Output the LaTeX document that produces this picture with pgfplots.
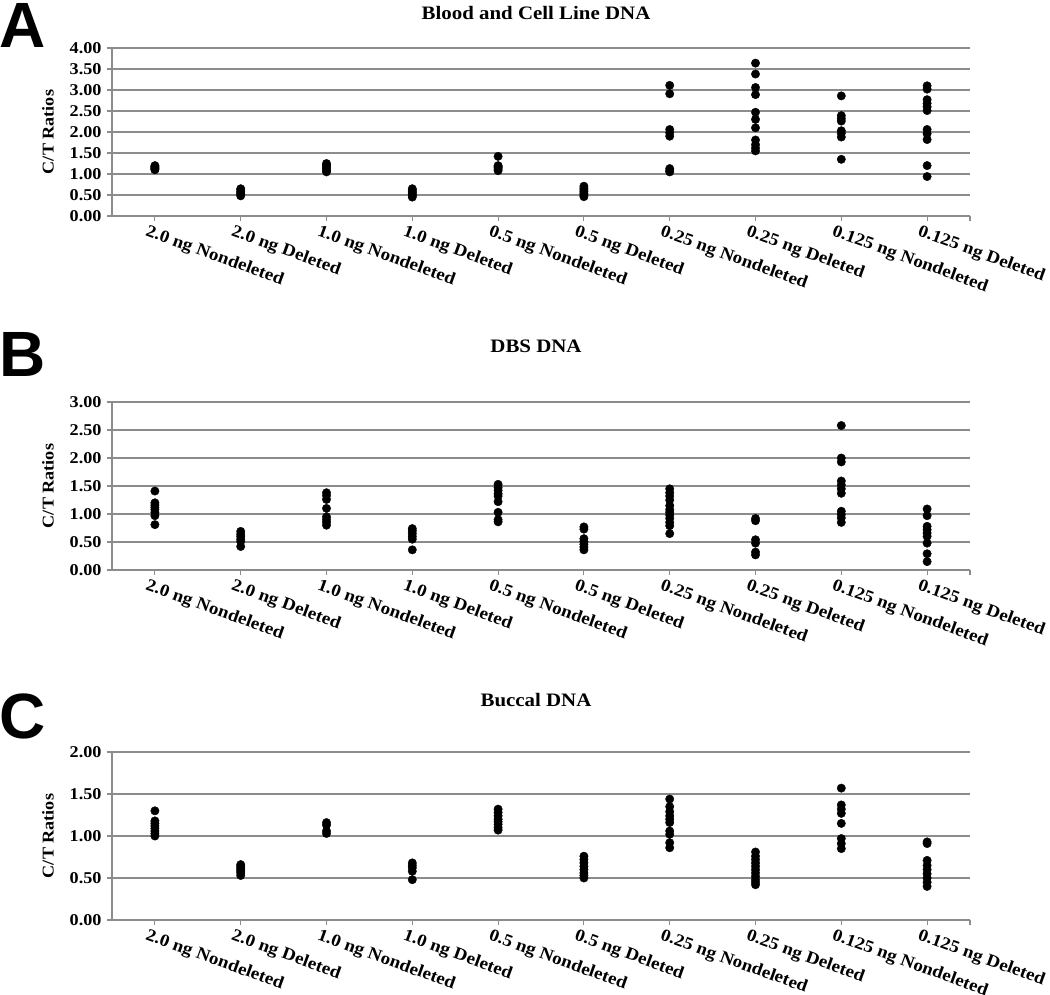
\documentclass[border=0pt]{standalone}
\usepackage{fontspec}
\setmainfont{Liberation Serif}[FakeStretch=1.1]
\newfontfamily\panelfont{Liberation Sans}
\usepackage{pgfplots}
\pgfplotsset{compat=1.18}
\definecolor{gridc}{RGB}{140,140,140}
\pgfplotsset{ctstyle/.style={
  scale only axis, width=858pt, height=168pt,
  xmin=-0.5, xmax=9.5, ymin=0,
  axis lines*=left,
  axis line style={gridc, line width=1.1pt},
  ymajorgrids, grid style={gridc, line width=1.1pt},
  xtick={0,...,9},
  xticklabels={2.0 ng Nondeleted, 2.0 ng Deleted, 1.0 ng Nondeleted, 1.0 ng Deleted, 0.5 ng Nondeleted, 0.5 ng Deleted, 0.25 ng Nondeleted, 0.25 ng Deleted, 0.125 ng Nondeleted, 0.125 ng Deleted},
  extra x ticks={9.5}, extra x tick labels={},
  tick align=outside, major tick length=5pt,
  tick style={gridc, line width=1.1pt},
  yticklabel style={font=\fontsize{16.5}{16.5}\selectfont\bfseries, xshift=-2pt},
  y tick label style={/pgf/number format/.cd, fixed, fixed zerofill, precision=2, assume math mode=true},
  xticklabel style={font=\fontsize{17.3}{17.3}\selectfont\bfseries, inner sep=0pt, xshift=-6pt, yshift=-3pt, rotate=-20, anchor=north west},
  ylabel={C/T Ratios},
  every axis y label/.style={at={(axis description cs:0,0.5)}, xshift=-64pt, rotate=90, anchor=center, font=\fontsize{16.5}{16.5}\selectfont\bfseries},
  clip=false,
}}
\pgfplotsset{dots/.style={only marks, mark=*, mark size=4.2pt, color=black, mark options={fill=black, draw=black}}}
\begin{document}
\begin{tikzpicture}
\useasboundingbox (0pt,0pt) rectangle (1050pt,-994pt);
% Panel A
\node[font=\panelfont\fontsize{64}{64}\selectfont\bfseries, anchor=north west, inner sep=0pt] at (-1pt,-3pt) {A};
\node[font=\fontsize{19}{19}\selectfont\bfseries, anchor=base] at (536pt,-19pt) {Blood and Cell Line DNA};
\begin{axis}[ctstyle, at={(112pt,-216pt)}, anchor=south west, ymax=4, ytick={0,0.5,...,4}]
\addplot[dots] coordinates {
(0,1.10)(0,1.12)(0,1.14)(0,1.16)(0,1.18)(0,1.20)
(1,0.48)(1,0.52)(1,0.55)(1,0.58)(1,0.62)(1,0.65)
(2,1.05)(2,1.08)(2,1.12)(2,1.15)(2,1.18)(2,1.22)(2,1.25)
(3,0.45)(3,0.48)(3,0.52)(3,0.55)(3,0.58)(3,0.62)(3,0.65)
(4,1.42)(4,1.08)(4,1.12)(4,1.15)(4,1.18)(4,1.20)
(5,0.46)(5,0.50)(5,0.54)(5,0.58)(5,0.62)(5,0.66)(5,0.71)
(6,3.11)(6,2.91)(6,2.06)(6,1.98)(6,1.90)(6,1.13)(6,1.08)(6,1.05)
(7,3.64)(7,3.38)(7,3.06)(7,2.89)(7,2.47)(7,2.30)(7,2.10)(7,1.81)(7,1.70)(7,1.62)(7,1.55)
(8,2.86)(8,2.39)(8,2.32)(8,2.26)(8,2.03)(8,1.97)(8,1.88)(8,1.35)
(9,3.10)(9,3.02)(9,2.77)(9,2.68)(9,2.60)(9,2.51)(9,2.06)(9,1.96)(9,1.82)(9,1.20)(9,0.94)
};
\end{axis}
% Panel B
\node[font=\panelfont\fontsize{64}{64}\selectfont\bfseries, anchor=north west, inner sep=0pt] at (-1pt,-332pt) {B};
\node[font=\fontsize{19}{19}\selectfont\bfseries, anchor=base] at (536pt,-352pt) {DBS DNA};
\begin{axis}[ctstyle, at={(112pt,-570pt)}, anchor=south west, ymax=3, ytick={0,0.5,...,3}]
\addplot[dots] coordinates {
(0,1.41)(0,1.20)(0,1.16)(0,1.12)(0,1.08)(0,1.03)(0,0.97)(0,0.81)
(1,0.69)(1,0.64)(1,0.60)(1,0.55)(1,0.51)(1,0.42)
(2,1.38)(2,1.33)(2,1.26)(2,1.10)(2,0.95)(2,0.90)(2,0.85)(2,0.80)
(3,0.74)(3,0.70)(3,0.65)(3,0.60)(3,0.55)(3,0.36)
(4,1.53)(4,1.47)(4,1.42)(4,1.36)(4,1.32)(4,1.22)(4,1.03)(4,0.90)(4,0.86)
(5,0.77)(5,0.73)(5,0.56)(5,0.51)(5,0.46)(5,0.41)(5,0.36)
(6,1.45)(6,1.38)(6,1.32)(6,1.25)(6,1.15)(6,1.08)(6,1.03)(6,0.98)(6,0.92)(6,0.85)(6,0.79)(6,0.65)
(7,0.92)(7,0.88)(7,0.54)(7,0.48)(7,0.32)(7,0.27)
(8,2.58)(8,2.00)(8,1.93)(8,1.59)(8,1.52)(8,1.45)(8,1.37)(8,1.05)(8,0.99)(8,0.93)(8,0.85)
(9,1.09)(9,0.97)(9,0.78)(9,0.72)(9,0.66)(9,0.60)(9,0.48)(9,0.29)(9,0.15)
};
\end{axis}
% Panel C
\node[font=\panelfont\fontsize{64}{64}\selectfont\bfseries, anchor=north west, inner sep=0pt] at (-1pt,-694pt) {C};
\node[font=\fontsize{19}{19}\selectfont\bfseries, anchor=base] at (536pt,-706pt) {Buccal DNA};
\begin{axis}[ctstyle, at={(112pt,-920pt)}, anchor=south west, ymax=2, ytick={0,0.5,...,2}]
\addplot[dots] coordinates {
(0,1.30)(0,1.18)(0,1.15)(0,1.12)(0,1.09)(0,1.06)(0,1.03)(0,1.00)
(1,0.53)(1,0.56)(1,0.58)(1,0.60)(1,0.62)(1,0.64)(1,0.66)
(2,1.16)(2,1.13)(2,1.06)(2,1.03)
(3,0.68)(3,0.65)(3,0.62)(3,0.58)(3,0.48)
(4,1.32)(4,1.28)(4,1.24)(4,1.20)(4,1.17)(4,1.14)(4,1.10)(4,1.07)
(5,0.76)(5,0.72)(5,0.68)(5,0.64)(5,0.60)(5,0.56)(5,0.53)(5,0.50)
(6,1.44)(6,1.35)(6,1.29)(6,1.24)(6,1.20)(6,1.16)(6,1.06)(6,1.02)(6,0.92)(6,0.86)
(7,0.81)(7,0.76)(7,0.72)(7,0.68)(7,0.64)(7,0.60)(7,0.56)(7,0.52)(7,0.48)(7,0.45)(7,0.42)
(8,1.57)(8,1.37)(8,1.32)(8,1.27)(8,1.15)(8,0.97)(8,0.91)(8,0.85)
(9,0.93)(9,0.91)(9,0.71)(9,0.65)(9,0.60)(9,0.55)(9,0.50)(9,0.45)(9,0.40)
};
\end{axis}
\end{tikzpicture}
\end{document}
